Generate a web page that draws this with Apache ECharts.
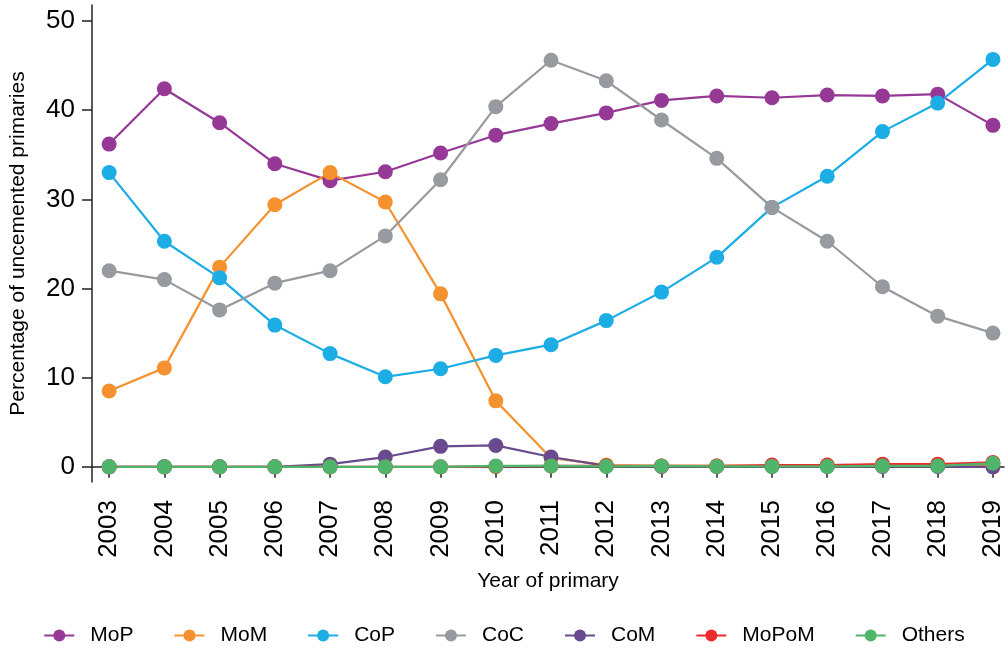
<!DOCTYPE html>
<html>
<head>
<meta charset="utf-8">
<script src="https://cdn.jsdelivr.net/npm/echarts@6/dist/echarts.min.js"></script>
<style>html,body{margin:0;padding:0;background:#fff}#c{width:1008px;height:650px}</style>
</head>
<body>
<div id="c"></div>
<script>
const years = [2003,2004,2005,2006,2007,2008,2009,2010,2011,2012,2013,2014,2015,2016,2017,2018,2019];
const yTicks = [0,10,20,30,40,50];
const MoP =   [36.2,42.4,38.6,34.0,32.1,33.1,35.2,37.2,38.5,39.7,41.1,41.6,41.4,41.7,41.6,41.8,38.3];
const MoM =   [8.5,11.1,22.4,29.4,33.0,29.7,19.4,7.4,1.0,0.2,0.1,0.1,0.1,0.1,0.1,0.1,0.1];
const CoP =   [33.0,25.3,21.2,15.9,12.7,10.1,11.0,12.5,13.7,16.4,19.6,23.5,29.1,32.6,37.6,40.8,45.7];
const CoC =   [22.0,21.0,17.6,20.6,22.0,25.9,32.2,40.4,45.6,43.3,38.9,34.6,29.1,25.3,20.2,16.9,15.0];
const CoM =   [0,0,0,0,0.3,1.1,2.3,2.4,1.1,0.1,0.05,0.05,0.05,0.05,0.05,0.05,0.0];
const MoPoM = [0,0,0,0,0,0,0,0.05,0.1,0.1,0.1,0.1,0.2,0.2,0.3,0.3,0.5];
const Others= [0,0,0,0,0,0,0,0.1,0.1,0.05,0.1,0.05,0.05,0.05,0.1,0.1,0.4];

const seriesDefs = [
  ['MoP', MoP, '#963895'],
  ['MoM', MoM, '#f5922f'],
  ['CoP', CoP, '#1badE4'],
  ['CoC', CoC, '#979a9e'],
  ['CoM', CoM, '#6a4a8e'],
  ['MoPoM', MoPoM, '#ec2c2c'],
  ['Others', Others, '#4eb56b']
];

const chart = echarts.init(document.getElementById('c'), null, {renderer:'canvas'});
const font = '"Liberation Sans", Arial, Helvetica, sans-serif';
chart.setOption({
  animation: false,
  backgroundColor: '#fff',
  grid: {left: 91, right: 4, top: 5, bottom: 168, containLabel: false},
  xAxis: {
    type: 'value', min: 2002.69, max: 2019.2,
    name: 'Year of primary', nameLocation: 'middle', nameGap: 89,
    nameTextStyle: {fontFamily: font, fontSize: 21, color: '#000'},
    axisLine: {show: true, lineStyle: {color: '#222', width: 1.5}},
    axisTick: {show: true, length: 11, lineStyle: {color: '#222', width: 1.5}, customValues: years},
    axisLabel: {rotate: 90, margin: 18, fontFamily: font, fontSize: 26, color: '#000', customValues: years,
      formatter: v => String(Math.round(v))},
    splitLine: {show: false}
  },
  yAxis: {
    type: 'value', min: -1.7, max: 51.8,
    name: 'Percentage of uncemented primaries', nameLocation: 'middle', nameGap: 63,
    nameTextStyle: {fontFamily: font, fontSize: 21, color: '#000'},
    axisLine: {show: true, lineStyle: {color: '#222', width: 1.5}},
    axisTick: {show: true, length: 10, lineStyle: {color: '#222', width: 1.5}, customValues: yTicks},
    axisLabel: {margin: 17, fontFamily: font, fontSize: 26, color: '#000', customValues: yTicks},
    splitLine: {show: false}
  },
  legend: {
    left: 'center', top: 620, itemWidth: 30, itemHeight: 15, itemGap: 40,
    textStyle: {fontFamily: font, fontSize: 21, color: '#000', padding: [0,0,0,11]},
    data: seriesDefs.map(d => d[0])
  },
  series: seriesDefs.map(d => ({
    name: d[0], type: 'line',
    data: years.map((y, i) => [y, d[1][i]]),
    symbol: 'circle', symbolSize: 15,
    itemStyle: {color: d[2]},
    lineStyle: {color: d[2], width: 2.2},
    z: 2
  }))
});
</script>
</body>
</html>
